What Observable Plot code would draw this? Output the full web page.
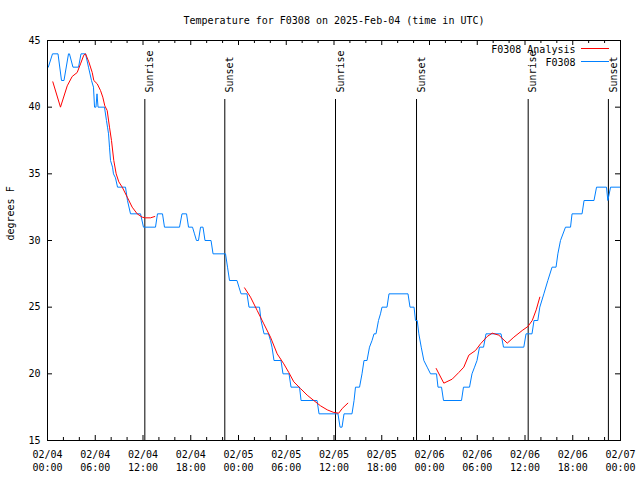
<!DOCTYPE html>
<html><head><meta charset="utf-8">
<script src="https://cdn.jsdelivr.net/npm/d3@7"></script>
<script src="https://cdn.jsdelivr.net/npm/@observablehq/plot@0.6"></script>
<style>body{margin:0;background:#fff} svg{display:block}</style>
</head><body><div id="chart"></div>
<script>
// ---- data (hours since 2025-02-04 00:00 UTC) ----
const titleText = "Temperature for F0308 on 2025-Feb-04 (time in UTC)";
const yLabel = "degrees F";
const seriesNames = ["F0308 Analysis", "F0308"];
const seriesColors = ["#ff0000", "#0080ff"];

const obsHours = [0.1,0.63,1.32,1.76,2.07,2.64,2.76,3.2,3.9,4.21,4.78,5.15,5.53,5.78,5.91,6.09,6.22,6.35,7.16,7.41,7.54,7.67,7.79,7.92,8.17,8.29,8.54,8.8,9.8,10.05,10.43,11.69,12.06,13.57,13.82,14.45,14.7,16.59,16.9,17.47,17.72,18.22,18.47,18.72,18.97,19.23,19.54,19.79,20.55,20.8,22.37,22.62,22.87,23.81,24.06,24.32,25.07,25.32,26.64,26.83,27.21,27.77,28.02,28.21,28.46,29.34,29.59,30.35,30.6,31.67,31.86,33.87,34.12,36.5,36.76,37.01,37.26,38.26,38.52,38.7,39.21,39.52,39.77,40.15,40.46,40.78,41.03,41.28,41.59,41.84,42.03,42.66,42.91,45.3,45.55,46.06,46.24,46.46,46.66,46.96,47.29,47.71,48.13,48.88,49.07,49.51,49.76,52.02,52.27,53.03,53.34,53.66,53.97,54.28,54.79,55.1,56.99,57.3,59.85,60.13,60.88,61.13,61.61,61.86,62.37,62.87,63.4,63.9,64.13,64.46,65.09,65.72,65.91,67.17,67.42,68.67,68.99,70.24,70.41,70.75,72.0];
const obsTemps = [43,44,44,42,42,44,44,43,43,44,44,43,42,41.5,40,40,41,40,40,39,38.5,38,37,36,35.5,35,34.7,34,34,33,32,32,31,31,32,32,31,31,32,32,31,31,30.5,30,30,31,31,30,30,29,29,28,27,27,26.5,26,26,25,25,24,23,23,22.5,22,21,21,20,20,19,19,18,18,17,17,16,16,17,17,18,19,19,20,21,21,22,22.5,23,23,24,24.5,25,25,26,26,25,25,24,24,23,22,21,20.5,20,20,19,19,18,18,19,19,20,20.5,21,22,22,23,23,22,22,23,23,24,24,25,26,27,28,28,29,30,31,31,32,32,33,33,34,34,33,34,34];

const anaHours = [0.67,1.63,2.48,3.1,3.73,4.15,4.56,4.78,5.19,5.62,5.82,6.25,6.66,6.95,7.2,7.5,7.79,8.04,8.33,8.63,8.96,9.39,10.02,10.64,11.27,11.9,12.31,12.94,13.48,
  24.76,25.51,26.35,27.18,28.02,28.86,29.69,30.32,30.95,31.79,32.63,33.46,34.31,35.15,35.98,36.6,37.03,37.74,
  48.84,49.8,50.85,51.68,52.31,52.94,53.78,54.41,55.25,55.88,56.71,57.77,58.6,59.65,60.36,60.91,61.41,61.86];
const anaTemps = [41.9,40,41.6,42.3,42.6,43.25,43.9,44,43.4,42.6,42,41.75,41.25,40.75,40.1,39.75,38.5,37.5,36,35,34.4,34,33.25,32.5,32,31.75,31.7,31.7,31.8,
  26.45,25.75,24.75,23.75,22.75,21.5,20.75,20.1,19.4,18.9,18.4,18,17.6,17.3,17.1,17.05,17.4,17.8,
  20.4,19.3,19.6,20.1,20.5,21.4,21.75,22.25,22.8,23.05,22.9,22.3,22.75,23.25,23.55,24,24.8,25.75];
const anaSegment = [...Array(29).fill(1), ...Array(18).fill(2), ...Array(18).fill(3)];

const sunHours = [12.23, 22.28, 36.19, 46.37, 60.4, 70.48];
const sunLabels = ["Sunrise", "Sunset", "Sunrise", "Sunset", "Sunrise", "Sunset"];

const yTicks = [15, 20, 25, 30, 35, 40, 45];
const majorTickHours = [0, 6, 12, 18, 24, 30, 36, 42, 48, 54, 60, 66, 72];
const minorTickHours = d3.range(0, 73, 2).filter(h => h % 6 !== 0);

// ---- build ----
const START = Date.UTC(2025, 1, 4);
const toDate = h => new Date(START + h * 3600e3);
const obs = obsHours.map((h, i) => ({t: toDate(h), v: obsTemps[i]}));
const ana = anaHours.map((h, i) => ({t: toDate(h), v: anaTemps[i], s: anaSegment[i]}));
const sun = sunHours.map((h, i) => ({t: toDate(h), label: sunLabels[i]}));
const majorTicks = majorTickHours.map(toDate);
const minorTicks = minorTickHours.map(toDate);

const W = 640, H = 480, ML = 47, MR = 20, MT = 40, MB = 40;
const FW = W - ML - MR, FH = H - MT - MB;
const font = "DejaVu Sans Mono";

const chart = Plot.plot({
  width: W, height: H,
  marginLeft: ML, marginRight: MR, marginTop: MT, marginBottom: MB,
  style: {fontFamily: font, fontSize: "10px", color: "black", background: "white"},
  x: {type: "utc", domain: [toDate(0), toDate(72)]},
  y: {domain: [15, 45]},
  marks: [
    Plot.ruleX(sun, {x: "t", insetTop: 59, stroke: "black", strokeWidth: 1}),
    Plot.text(sun, {x: "t", text: "label", frameAnchor: "top", dy: 52, dx: 1, rotate: -90, textAnchor: "start", fill: "black", fontSize: 10}),
    Plot.line(obs, {x: "t", y: "v", stroke: seriesColors[1], strokeWidth: 1}),
    Plot.line(ana, {x: "t", y: "v", z: "s", stroke: seriesColors[0], strokeWidth: 1}),
    Plot.frame({stroke: "black", strokeWidth: 1}),
    Plot.ruleX(majorTicks, {insetTop: FH - 5, stroke: "black"}),
    Plot.ruleX(majorTicks, {insetBottom: FH - 5, stroke: "black"}),
    Plot.ruleX(minorTicks, {insetTop: FH - 3, stroke: "black"}),
    Plot.ruleX(minorTicks, {insetBottom: FH - 3, stroke: "black"}),
    Plot.ruleY(yTicks, {insetRight: FW - 5, stroke: "black"}),
    Plot.ruleY(yTicks, {insetLeft: FW - 5, stroke: "black"}),
    Plot.axisX({ticks: majorTicks, tickSize: 0, tickPadding: 10, tickFormat: d3.utcFormat("%m/%d"), label: null, fontSize: 10}),
    Plot.axisX({ticks: majorTicks, tickSize: 0, tickPadding: 23, tickFormat: d3.utcFormat("%H:%M"), label: null, fontSize: 10}),
    Plot.axisY({ticks: yTicks, tickSize: 0, tickPadding: 7, label: null, fontSize: 10}),
    Plot.text([titleText], {frameAnchor: "top", dy: -24, fill: "black", fontSize: 10}),
    Plot.text([yLabel], {frameAnchor: "left", dx: -37, rotate: -90, fill: "black", fontSize: 10}),
    Plot.text([seriesNames[0]], {frameAnchor: "top-right", dx: -45, dy: 5, textAnchor: "end", fill: "black", fontSize: 10}),
    Plot.text([seriesNames[1]], {frameAnchor: "top-right", dx: -45, dy: 18, textAnchor: "end", fill: "black", fontSize: 10})
  ]
});

// legend sample lines
const svg = d3.select(chart);
[0, 1].forEach(i => {
  svg.append("line")
    .attr("x1", W - MR - 39).attr("x2", W - MR - 11)
    .attr("y1", MT + 8.5 + 13 * i).attr("y2", MT + 8.5 + 13 * i)
    .attr("stroke", seriesColors[i]).attr("stroke-width", 1);
});
document.getElementById("chart").appendChild(chart);
</script>
</body></html>
